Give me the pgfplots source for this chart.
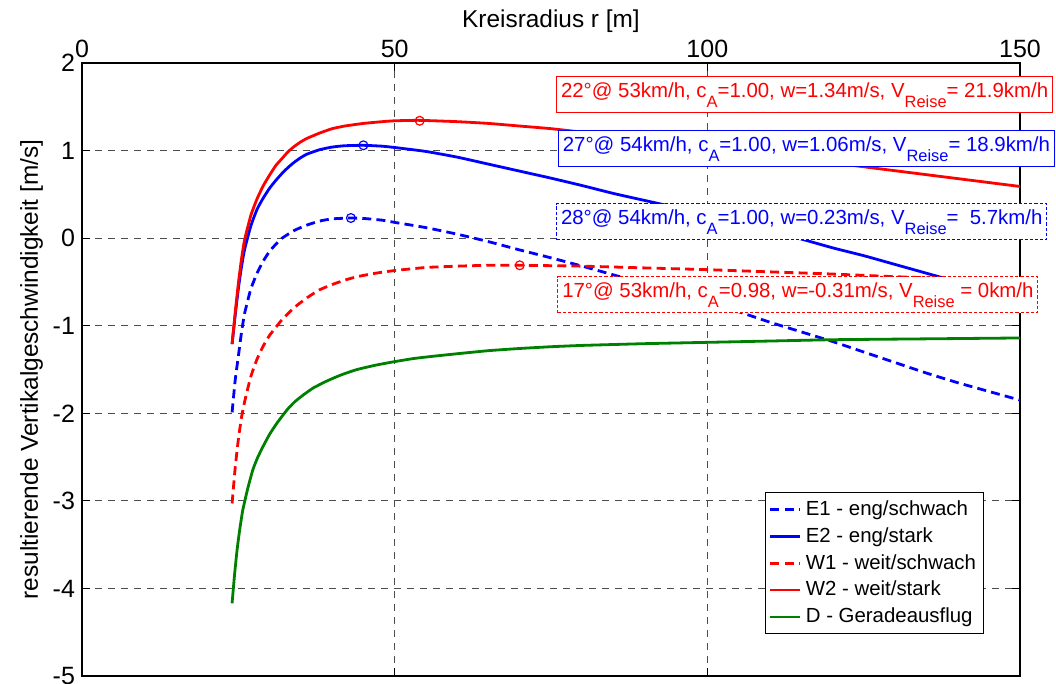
\documentclass[border=0pt]{standalone}
\usepackage{fontspec}
\setmainfont{Liberation Sans}
\usepackage{pgfplots}
\pgfplotsset{compat=1.18}

\definecolor{mred}{rgb}{1,0,0}
\definecolor{mblue}{rgb}{0,0,1}
\definecolor{mgreen}{rgb}{0,0.5,0}

% lowered, smaller subscript in text font
\newcommand\sub[1]{\raisebox{-0.5em}{\fontsize{8.2bp}{9bp}\selectfont #1}}

\tikzset{
  infobox/.style={anchor=west, fill=white, line width=0.6bp,
    inner xsep=2.2bp, inner ysep=2.5bp, text height=8bp, text depth=5bp,
    font=\fontsize{10.2bp}{12bp}\selectfont},
  dotbox/.style={dash pattern=on 1.6bp off 1bp},
  curvedash/.style={dash pattern=on 4.5bp off 2.6bp},
  curve/.style={line width=1.4bp, smooth, tension=0.3},
}

\begin{document}
\begin{tikzpicture}
\begin{axis}[
  scale only axis,
  width=469bp, height=306.5bp,
  xmin=0, xmax=150, ymin=-5, ymax=2,
  xtick={0,50,100,150}, ytick={-5,-4,...,2},
  xticklabel pos=upper,
  tick align=inside,
  major tick length=4bp,
  axis line style={line width=0.6bp},
  every tick/.style={line width=0.5bp, black},
  grid=major,
  major grid style={line width=0.5bp, black!70, dash pattern=on 3.5bp off 3bp},
  /pgf/number format/assume math mode=true,
  tick label style={font=\fontsize{12.5bp}{14bp}\selectfont},
  xticklabel style={yshift=-1bp},
  label style={font=\fontsize{12.2bp}{14bp}\selectfont},
  xlabel={Kreisradius r [m]},
  ylabel={resultierende Vertikalgeschwindigkeit [m/s]},
  xlabel style={yshift=-3bp},
  ylabel style={yshift=-2bp},
  clip=false,
  legend style={at={(1,0)}, anchor=south east, xshift=-18bp, yshift=21bp,
    font=\fontsize{10.2bp}{12bp}\selectfont, draw=black, line width=0.5bp,
    inner sep=1.8bp, row sep=0.6bp, cells={anchor=west}},
  legend image code/.code={\draw[#1] (0cm,0cm) -- (15bp,0cm);},
]
% E1 - eng/schwach
\addplot[mblue, curve, curvedash] coordinates {
 (24,-1.99) (24.5,-1.62) (25,-1.35) (25.5,-1.08) (26,-0.86) (27,-0.58)
 (28,-0.40) (29,-0.26) (30,-0.15) (31,-0.07) (32,0.0) (34,0.09) (36,0.15)
 (38,0.195) (40,0.22) (43,0.23) (45,0.225) (48,0.205) (50,0.18) (55,0.12)
 (60,0.045) (65,-0.04) (70,-0.135) (75,-0.225) (80,-0.32) (85,-0.42)
 (90,-0.52) (95,-0.62) (100,-0.73) (105,-0.84) (110,-0.96) (115,-1.07)
 (120,-1.18) (125,-1.30) (130,-1.42) (135,-1.54) (140,-1.65) (145,-1.75)
 (150,-1.85)};
\addlegendentry{E1 - eng/schwach}
% E2 - eng/stark
\addplot[mblue, curve] coordinates {
 (24,-1.21) (24.5,-0.88) (25,-0.58) (25.5,-0.33) (26,-0.13) (27,0.14)
 (28,0.33) (29,0.46) (30,0.57) (31,0.66) (32,0.74) (33,0.81) (34,0.87)
 (35,0.92) (36,0.96) (38,1.01) (40,1.04) (42,1.055) (45,1.06) (48,1.05)
 (50,1.035) (55,0.99) (60,0.925) (65,0.845) (70,0.765) (75,0.685)
 (80,0.60) (85,0.51) (90,0.43) (95,0.35) (100,0.26) (105,0.17) (110,0.08)
 (115,-0.01) (120,-0.11) (125,-0.20) (130,-0.30) (135,-0.40) (140,-0.50)
 (145,-0.60) (150,-0.71)};
\addlegendentry{E2 - eng/stark}
% W1 - weit/schwach
\addplot[mred, curve, curvedash] coordinates {
 (24,-3.03) (24.5,-2.62) (25,-2.30) (25.5,-2.05) (26,-1.87) (27,-1.58)
 (28,-1.38) (29,-1.23) (30,-1.11) (32,-0.93) (34,-0.79) (36,-0.68)
 (38,-0.59) (40,-0.53) (42,-0.48) (44,-0.44) (47,-0.40) (50,-0.37)
 (55,-0.335) (60,-0.32) (65,-0.31) (70,-0.31) (80,-0.32) (90,-0.34)
 (100,-0.36) (110,-0.385) (120,-0.41) (130,-0.44) (140,-0.465) (150,-0.49)};
\addlegendentry{W1 - weit/schwach}
% W2 - weit/stark
\addplot[mred, curve] coordinates {
 (24,-1.21) (24.5,-0.85) (25,-0.52) (25.5,-0.24) (26,-0.02) (27,0.26)
 (28,0.45) (29,0.60) (30,0.72) (31,0.83) (32,0.91) (33,0.99) (34,1.05)
 (35,1.10) (36,1.14) (38,1.20) (40,1.25) (42,1.28) (45,1.31) (48,1.33)
 (50,1.34) (54,1.345) (60,1.33) (65,1.31) (70,1.28) (75,1.25) (80,1.21)
 (90,1.13) (100,1.04) (110,0.95) (120,0.86) (130,0.77) (140,0.68)
 (150,0.59)};
\addlegendentry{W2 - weit/stark}
% D - Geradeausflug
\addplot[mgreen, curve] coordinates {
 (24,-4.17) (24.4,-3.84) (24.8,-3.56) (25.2,-3.34) (25.7,-3.11) (26.5,-2.86)
 (27.3,-2.65) (28,-2.52) (28.8,-2.40) (30,-2.24) (31.2,-2.11) (32.8,-1.96)
 (34,-1.87) (35.4,-1.79) (37,-1.71) (39.2,-1.63) (41.5,-1.56) (44,-1.50)
 (47,-1.45) (50,-1.41) (53,-1.375) (56,-1.35) (60,-1.32) (65,-1.285)
 (70,-1.26) (75,-1.24) (80,-1.225) (90,-1.205) (100,-1.19) (110,-1.175)
 (120,-1.16) (135,-1.15) (150,-1.14)};
\addlegendentry{D - Geradeausflug}

% optimum of each curve
\addplot[only marks, mark=o, mark size=2.2bp, mblue, line width=0.6bp, forget plot]
  coordinates {(43,0.23) (45,1.06)};
\addplot[only marks, mark=o, mark size=2.2bp, mred, line width=0.6bp, forget plot]
  coordinates {(54,1.34) (70,-0.31)};

\node[infobox, draw=mred, text=mred] at (axis cs:75.8,1.644)
  {22°@ 53km/h, c\sub{A}=1.00, w=1.34m/s, V\sub{Reise}= 21.9km/h};
\node[infobox, draw=mblue, text=mblue] at (axis cs:76.1,1.022)
  {27°@ 54km/h, c\sub{A}=1.00, w=1.06m/s, V\sub{Reise}= 18.9km/h};
\node[infobox, dotbox, draw=mblue, text=mblue] at (axis cs:75.8,0.188)
  {28°@ 54km/h, c\sub{A}=1.00, w=0.23m/s, V\sub{Reise}=\ \ 5.7km/h};
\node[infobox, dotbox, draw=mred, text=mred] at (axis cs:76.0,-0.645)
  {17°@ 53km/h, c\sub{A}=0.98, w=-0.31m/s, V\sub{Reise}\ = 0km/h};

\coordinate (ll) at (rel axis cs:0,0);
\coordinate (ur) at (rel axis cs:1,1);
\end{axis}
\pgfresetboundingbox
\path ([shift={(-41bp,-4bp)}]ll) rectangle ([shift={(18bp,31.5bp)}]ur);
\end{tikzpicture}
\end{document}
